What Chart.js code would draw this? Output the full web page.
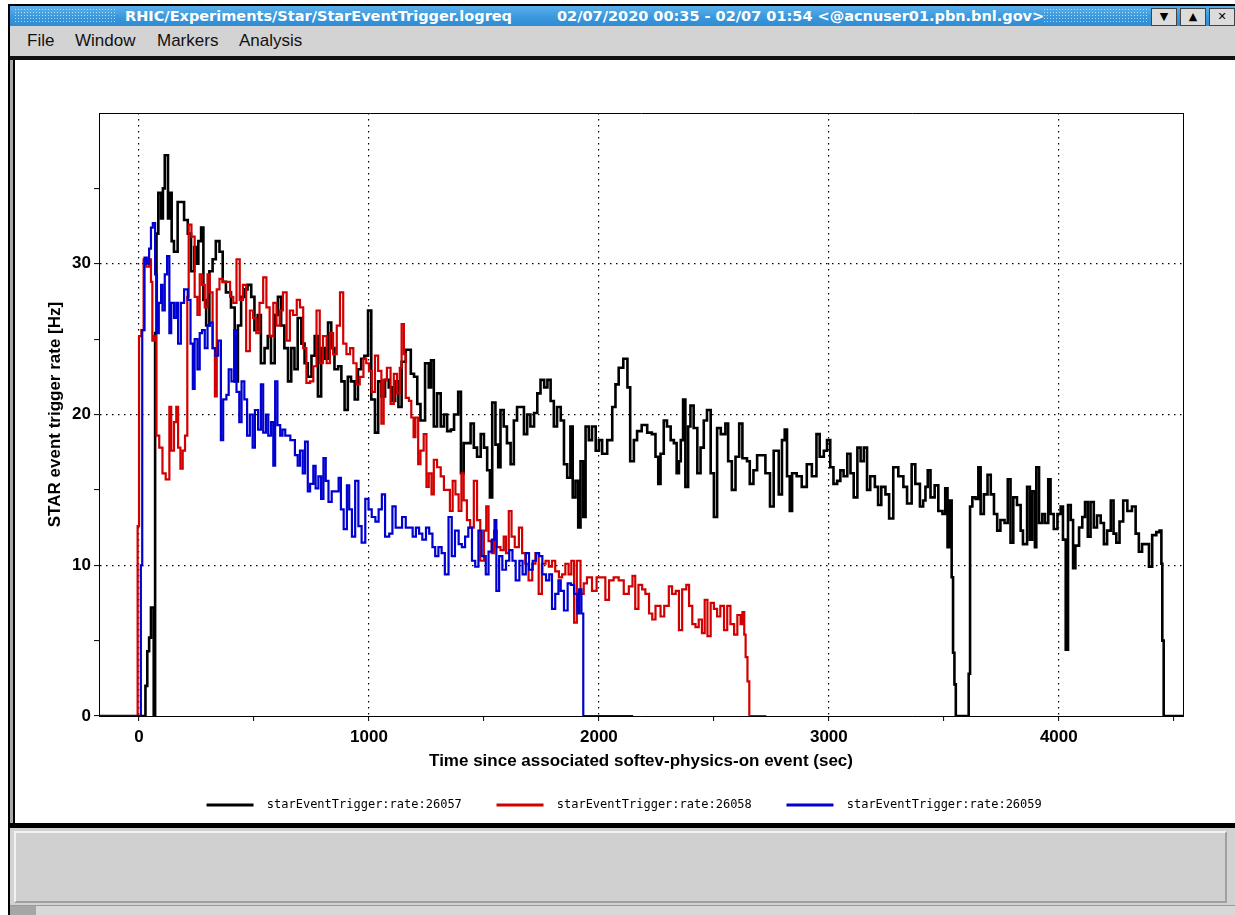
<!DOCTYPE html>
<html>
<head>
<meta charset="utf-8">
<title>StarEventTrigger.logreq</title>
<script src="https://cdn.jsdelivr.net/npm/chart.js@4.4.1/dist/chart.umd.min.js"></script>
<style>
  body { margin: 0; width: 1235px; height: 915px; background: #fff; position: relative; overflow: hidden; font-family: "Liberation Sans", Arial, sans-serif; }
  .abs { position: absolute; }
  #outerTop { left: 8px; top: 4px; width: 1227px; height: 2px; background: #000; }
  #outerLeft { left: 8px; top: 4px; width: 2px; height: 911px; background: #000; }
  #titlebar { left: 10px; top: 6px; width: 1225px; height: 20px; background: linear-gradient(to bottom, #5cb1ea 0%, #3a98dd 55%, #2f8bd2 100%); }
  .dots { top: 8px; height: 16px; background-image: radial-gradient(circle, rgba(220,240,255,0.75) 0.7px, transparent 0.9px); background-size: 3px 3px; }
  .ttl { top: 7px; color: #fff; font: bold 14.5px "DejaVu Sans", sans-serif; white-space: pre; line-height: 18px; }
  .btn { top: 8px; width: 24px; height: 16px; background: #dcdcdc; border: 1px solid #444; font: bold 11px "DejaVu Sans", sans-serif; text-align: center; line-height: 16px; color: #000; }
  #menubar { left: 10px; top: 26px; width: 1225px; height: 30px; background: #d3d3d3; }
  .menu { top: 31px; font: 17px "Liberation Sans", Arial, sans-serif; color: #111; line-height: 20px; }
  #menuLine { left: 10px; top: 56px; width: 1225px; height: 4px; background: #111; }
  #innerGray { left: 10px; top: 60px; width: 3px; height: 763px; background: #a8a8a8; }
  #innerBlack { left: 13px; top: 60px; width: 2px; height: 763px; background: #000; }
  #plotPanel { left: 15px; top: 60px; width: 1220px; height: 763px; background: #fff; }
  #bottomLine { left: 10px; top: 823px; width: 1225px; height: 5px; background: #000; }
  #statusPanel { left: 10px; top: 828px; width: 1225px; height: 77px; background: #d2d2d2; }
  #statusInner { left: 14px; top: 831px; width: 1209px; height: 68px; border: 2px solid; border-color: #f2f2f2 #a0a0a0 #a0a0a0 #f2f2f2; background: #d0d0d0; }
  #bottomStrip { left: 10px; top: 905px; width: 1225px; height: 10px; background: #d8d8d8; border-top: 1px solid #999; }
  #bottomBlock { left: 10px; top: 906px; width: 26px; height: 9px; background: #a6a6a6; }
  canvas { display: block; }
</style>
</head>
<body>
<div id="outerTop" class="abs"></div>
<div id="outerLeft" class="abs"></div>
<div id="titlebar" class="abs"></div>
<div class="abs dots" style="left:14px;width:102px;"></div>
<div class="abs dots" style="left:1043px;width:104px;"></div>
<div class="abs ttl" style="left:125px;">RHIC/Experiments/Star/StarEventTrigger.logreq</div>
<div class="abs ttl" style="left:557px;">02/07/2020 00:35 - 02/07 01:54 &lt;@acnuser01.pbn.bnl.gov&gt;</div>
<div class="abs btn" style="left:1151px;">&#9660;</div>
<div class="abs btn" style="left:1180px;">&#9650;</div>
<div class="abs btn" style="left:1209px;">&#10005;</div>
<div id="menubar" class="abs"></div>
<div class="abs menu" style="left:27px;">File</div>
<div class="abs menu" style="left:75px;">Window</div>
<div class="abs menu" style="left:157px;">Markers</div>
<div class="abs menu" style="left:239px;">Analysis</div>
<div id="menuLine" class="abs"></div>
<div id="innerGray" class="abs"></div>
<div id="innerBlack" class="abs"></div>
<div id="plotPanel" class="abs"><canvas id="rateChart" width="1220" height="763"></canvas></div>
<div id="bottomLine" class="abs"></div>
<div id="statusPanel" class="abs"></div>
<div id="statusInner" class="abs"></div>
<div id="bottomStrip" class="abs"></div>
<div id="bottomBlock" class="abs"></div>

<script>
// [time since softev-physics-on (s), rate (Hz)]
var rate26057 = [[-174,0],[28,2],[36,4.3],[44,5.2],[52,7.2],[64,0],[70,25.4],[76,32],[84,34.7],[96,33],[104,35],[112,37.2],[126,33],[134,34.7],[142,31.5],[152,30.8],[168,34.1],[196,32.9],[212,32],[226,29.5],[240,31.1],[252,30],[258,31.5],[270,32.4],[280,27.6],[292,25.9],[306,29.5],[320,30.3],[334,31.5],[350,30.8],[364,28.8],[378,28.1],[400,27.1],[416,22.2],[430,25.9],[444,27.8],[458,28.3],[472,28.6],[488,27.8],[502,25.6],[516,26.6],[530,23.4],[546,24.4],[560,25.2],[574,23.4],[590,26.6],[604,27.8],[618,25.9],[632,24.4],[648,22.2],[662,24.4],[676,23],[690,26.4],[706,24.7],[720,23.4],[734,22.5],[750,23.9],[764,25.2],[778,21.2],[792,24.4],[808,23.7],[822,26.1],[836,24.4],[850,23],[866,23.2],[880,22.2],[894,20.3],[908,22.5],[922,22.2],[938,21],[952,23],[966,23.7],[980,23.9],[996,26.9],[1010,21],[1026,18.8],[1040,22.2],[1054,21.2],[1070,22.3],[1086,21.8],[1100,20.9],[1114,22.2],[1128,20.5],[1142,23.5],[1160,24.3],[1182,22.7],[1196,22.5],[1210,20.7],[1224,19.6],[1244,23.4],[1260,21.8],[1270,23.6],[1282,19.2],[1296,21.4],[1312,19.2],[1326,20],[1340,18.9],[1356,19],[1370,20],[1388,21.5],[1400,16.1],[1412,18.1],[1442,19.4],[1456,17.8],[1470,17.2],[1486,18.7],[1500,17.8],[1514,16.3],[1526,14.5],[1536,20.8],[1550,18],[1562,16.5],[1572,20.3],[1586,19.2],[1600,18.1],[1616,16.7],[1630,19.6],[1644,20.5],[1674,18.7],[1688,20],[1702,19.2],[1718,20.1],[1732,21.4],[1746,22.3],[1762,21.8],[1776,22.3],[1790,20.9],[1804,19.2],[1818,20.5],[1834,19.6],[1848,16.7],[1862,15.8],[1876,19.2],[1886,14.5],[1898,15.6],[1910,12.5],[1920,16.9],[1932,13.2],[1942,19.2],[1956,18.3],[1970,19.2],[1986,17.6],[2000,18.3],[2014,17.4],[2036,18.3],[2058,20.5],[2072,22],[2086,23.1],[2106,23.7],[2124,21.8],[2136,16.9],[2152,18.3],[2166,18.9],[2186,19.3],[2210,18.8],[2230,18.7],[2246,17.2],[2258,15.4],[2268,17.4],[2282,19.6],[2296,19.2],[2312,18.3],[2326,18.1],[2338,16.1],[2348,16.9],[2356,18.3],[2366,21],[2376,15.2],[2388,19.2],[2398,20.6],[2412,19.1],[2428,16.1],[2442,17.8],[2456,19.6],[2470,20.3],[2486,16.1],[2500,13.2],[2514,19.1],[2530,18.7],[2550,19.4],[2562,16.9],[2578,15],[2594,17.2],[2610,19.4],[2624,17.1],[2644,16.9],[2656,15.4],[2672,16.3],[2688,17.3],[2710,17.3],[2724,16.1],[2744,13.9],[2760,17.6],[2782,14.7],[2796,18.3],[2808,19],[2818,15.9],[2830,13.6],[2840,16.1],[2860,15.9],[2882,15.2],[2904,16.7],[2926,15.9],[2946,18.7],[2960,17.2],[2978,17.6],[2992,18.3],[3006,16.5],[3020,15.4],[3036,15.6],[3050,16.3],[3064,15.9],[3080,17.4],[3094,16.1],[3108,14.5],[3124,17.8],[3138,16.9],[3152,17.8],[3166,15],[3180,15.9],[3200,15.2],[3214,14],[3228,15.2],[3246,14.7],[3262,13.1],[3280,16.5],[3302,15.9],[3324,15.2],[3340,14.1],[3360,16.7],[3376,15.4],[3396,13.9],[3410,14.3],[3420,15.2],[3430,16.3],[3442,14.5],[3460,15.3],[3476,13.6],[3494,13.4],[3506,15.1],[3516,11.2],[3526,14.3],[3534,9.2],[3540,4.2],[3546,2.1],[3552,0],[3608,2.8],[3614,13.9],[3624,14.5],[3638,14.4],[3650,16.5],[3660,13.4],[3674,14.7],[3690,16],[3704,14.7],[3718,13.4],[3732,12.3],[3746,13],[3764,12.8],[3778,15.7],[3790,11.5],[3802,14.5],[3818,14],[3834,12.3],[3844,11.4],[3862,15.2],[3874,11.7],[3884,14.9],[3896,11.2],[3902,16.5],[3914,12.8],[3928,13.4],[3940,12.8],[3954,15.7],[3964,13.4],[3978,12.4],[3994,13.4],[4008,13.9],[4018,11.7],[4030,4.4],[4040,14],[4052,13],[4062,9.8],[4072,11.3],[4088,12.5],[4102,13.2],[4114,14.2],[4126,11.9],[4138,14.2],[4152,12.5],[4166,13.3],[4182,12.8],[4196,11.4],[4210,12.3],[4226,14.3],[4238,12.1],[4250,11.5],[4264,12.9],[4280,14.3],[4298,13.6],[4318,13.9],[4334,12.1],[4348,10.9],[4362,11.4],[4380,11.4],[4392,9.9],[4406,12],[4424,12.2],[4438,12.3],[4446,10.1],[4450,5],[4456,0],[4540,0]];

var rate26058 = [[-174,0],[-6,12.6],[0,25.2],[10,25.6],[20,30.3],[32,29.8],[44,30.3],[52,28.8],[58,24.9],[66,25.2],[76,18.6],[88,17.8],[102,16.1],[116,15.7],[132,20.5],[140,17.6],[152,19.5],[162,20.5],[170,17.8],[180,16.4],[190,17.6],[200,18.6],[210,27.8],[216,32.6],[228,31.8],[242,27.8],[254,26.6],[264,29.3],[274,28.6],[286,27.1],[298,29.3],[308,28.1],[320,24.4],[330,21.2],[338,28.3],[350,29],[364,28.8],[380,28.8],[396,27.8],[410,27.4],[424,30.3],[438,27.6],[452,28.6],[466,24.2],[482,26.9],[496,26.4],[510,25.4],[524,27.4],[540,29.1],[554,27.1],[568,25.2],[584,27.4],[598,25.9],[612,26.9],[626,28.1],[642,24.9],[656,26.9],[670,26.6],[686,27.6],[700,27.1],[714,24.4],[728,22.1],[744,22.2],[758,23.2],[772,26.9],[786,23.4],[800,25.2],[816,23.4],[830,25.4],[844,24],[860,25.9],[874,28.1],[888,24.7],[902,24],[918,24.4],[932,23.4],[946,22],[960,22.5],[976,23.7],[988,23.4],[1000,22.9],[1012,21.5],[1026,23.9],[1040,22.9],[1054,19.4],[1064,22.3],[1078,23.1],[1094,20.7],[1108,22.7],[1122,21.4],[1134,23.1],[1142,26],[1152,24],[1160,21.1],[1174,20.9],[1184,19.8],[1194,18.5],[1202,19.8],[1214,16.7],[1224,17.6],[1238,18.7],[1250,15.2],[1260,16.1],[1272,14.7],[1282,17],[1296,16.5],[1312,15.9],[1326,15],[1340,15],[1352,13.6],[1364,15.6],[1376,14.7],[1390,13.6],[1402,16.1],[1412,14.3],[1426,13],[1440,12.5],[1456,15.6],[1470,13],[1484,10.3],[1500,12.3],[1510,13.9],[1520,11.6],[1534,10.8],[1544,12.3],[1556,11.2],[1572,11],[1586,11.9],[1596,10.8],[1608,13.6],[1620,11.9],[1634,11.2],[1652,12.5],[1666,10.8],[1680,10.1],[1694,9],[1710,10.1],[1724,10.8],[1738,8.1],[1752,10.1],[1768,10.3],[1782,9.9],[1796,10.3],[1810,9.6],[1826,9.2],[1840,9.4],[1854,10.1],[1868,9.4],[1880,10.3],[1892,6.2],[1904,10.3],[1920,8.1],[1934,8.8],[1948,9.2],[1970,8.3],[1990,9.2],[2008,9.2],[2028,7.7],[2044,9],[2064,9.2],[2086,9],[2108,8.1],[2130,8.6],[2146,9.3],[2158,7.1],[2172,8.7],[2188,8.4],[2202,8.1],[2218,6.8],[2232,6.4],[2246,7.3],[2268,6.6],[2284,7.3],[2304,8.6],[2318,8.1],[2334,8.3],[2348,5.7],[2362,8.4],[2380,8.7],[2392,7.3],[2406,6.1],[2420,5.9],[2434,6.4],[2448,5.5],[2460,7.7],[2472,5.3],[2486,7.5],[2500,7.1],[2514,6.6],[2528,7.3],[2544,5.7],[2558,7.3],[2572,6.1],[2588,5.4],[2602,6.7],[2616,6.1],[2624,6.9],[2632,5.4],[2638,3.9],[2646,2.3],[2654,0],[2728,0]];

var rate26059 = [[-174,0],[8,10],[14,25.6],[24,30.4],[34,30],[44,31],[52,32.4],[60,32.7],[70,29.3],[78,25.4],[86,27.4],[96,28.6],[102,26.9],[112,29.3],[122,30.5],[132,25.4],[140,27.4],[152,26.4],[162,27.4],[170,24.7],[182,27.4],[196,28.3],[212,27.6],[224,24.7],[234,21.7],[242,25],[254,23],[264,25.4],[274,25.6],[286,24.4],[298,25.9],[308,26.1],[320,24.4],[332,23.9],[344,24.9],[356,18.3],[366,21],[380,21.3],[390,23],[402,22.2],[414,25.6],[424,21.5],[436,19.5],[446,22.2],[458,21],[470,18.6],[482,20],[494,17.8],[504,20.3],[518,19],[530,22],[540,18.8],[552,20],[562,18.6],[574,19.5],[584,16.6],[592,22.2],[602,19.3],[614,18.6],[624,19],[636,18.6],[658,18.3],[678,17.3],[690,16.6],[700,17.6],[712,16.1],[722,18.2],[734,14.9],[744,15.4],[758,16.6],[768,15.1],[780,15.9],[792,14.4],[802,17.1],[812,15.6],[824,14.2],[838,14.9],[852,14.9],[868,15.8],[878,13.7],[890,12.4],[904,15.3],[914,13.7],[926,11.9],[940,15.6],[954,12.6],[968,11.5],[984,14.4],[998,13.7],[1012,13.2],[1028,12.9],[1042,13.7],[1056,14.7],[1070,11.9],[1088,12.1],[1102,13.9],[1116,12.5],[1130,12.5],[1144,13.2],[1160,12.5],[1176,12.5],[1190,11.9],[1204,12.5],[1218,12.1],[1232,11.7],[1248,12.5],[1262,12.1],[1276,11.2],[1288,10.6],[1302,11.2],[1316,10.8],[1330,9.4],[1346,13.2],[1360,10.6],[1374,12.3],[1390,11.4],[1404,11.2],[1418,11.9],[1432,12.5],[1448,10.3],[1462,9.9],[1476,12.3],[1490,10.6],[1508,9.4],[1520,10.9],[1534,11.7],[1546,13],[1554,8.3],[1566,10.6],[1580,9.7],[1596,10.3],[1610,11],[1624,10.3],[1638,9],[1654,10.3],[1668,9.4],[1682,10.8],[1696,9.7],[1712,10.3],[1726,10.8],[1740,10.6],[1754,9.4],[1770,9],[1784,9.4],[1796,7.1],[1810,8.1],[1824,9],[1834,8.3],[1848,7],[1864,8.8],[1878,8.7],[1892,8.1],[1906,6.8],[1914,8.4],[1924,6.8],[1932,0],[2149,0]];

var seriesNames = ["starEventTrigger:rate:26057", "starEventTrigger:rate:26058", "starEventTrigger:rate:26059"];
var xTickValues = [0, 500, 1000, 1500, 2000, 2500, 3000, 3500, 4000, 4500];
var yTickValues = [0, 5, 10, 15, 20, 25, 30, 35];

function toPoints(pairs) {
    return pairs.map(function(p) { return {x: p[0], y: p[1]}; });
}

var boldFont = {family: '"Liberation Sans", Arial, sans-serif', size: 17, weight: 'bold'};
var titleFont = {family: '"Liberation Sans", Arial, sans-serif', size: 17, weight: 'bold'};
var dotted = [1.5, 4.5];

var ctx = document.getElementById('rateChart');
var chart = new Chart(ctx, {
    type: 'line',
    data: {
        datasets: [
            { label: seriesNames[0], data: toPoints(rate26057), borderColor: '#000000', backgroundColor: '#000000', borderWidth: 2.6, stepped: true, pointRadius: 0, order: 3 },
            { label: seriesNames[1], data: toPoints(rate26058), borderColor: '#d20000', backgroundColor: '#d20000', borderWidth: 2.2, stepped: true, pointRadius: 0, order: 2 },
            { label: seriesNames[2], data: toPoints(rate26059), borderColor: '#0000d0', backgroundColor: '#0000d0', borderWidth: 2.2, stepped: true, pointRadius: 0, order: 1 }
        ]
    },
    options: {
        responsive: false,
        animation: false,
        events: [],
        layout: { padding: { left: 20, top: 0, right: 0, bottom: 2 } },
        scales: {
            x: {
                type: 'linear', position: 'bottom', min: -174, max: 4540,
                afterBuildTicks: function(s) { s.ticks = xTickValues.map(function(v) { return {value: v}; }); },
                afterFit: function(s) { s.height = 70; },
                ticks: { autoSkip: false, maxRotation: 0, padding: 6, color: '#000', font: boldFont,
                    callback: function(v) { return v % 1000 === 0 ? String(v) : ''; } },
                grid: {
                    color: function(c) { return c.tick && c.tick.value % 1000 === 0 ? '#000' : 'rgba(0,0,0,0)'; },
                    lineWidth: 1.2, tickLength: 5, tickColor: '#000', tickWidth: 1
                },
                border: { display: true, color: '#000', width: 1, dash: dotted },
                title: { display: true, text: 'Time since associated softev-physics-on event (sec)', color: '#000', font: titleFont, padding: { top: 14, bottom: 14 } }
            },
            xTop: {
                type: 'linear', position: 'top', display: true,
                afterFit: function(s) { s.height = 53; },
                ticks: { display: false }, grid: { display: false },
                border: { display: true, color: '#000', width: 1 }
            },
            y: {
                type: 'linear', position: 'left', min: 0, max: 40,
                afterBuildTicks: function(s) { s.ticks = yTickValues.map(function(v) { return {value: v}; }); },
                afterFit: function(s) { s.width = 64; },
                ticks: { padding: 3, color: '#000', font: boldFont,
                    callback: function(v) { return v % 10 === 0 ? String(v) : ''; } },
                grid: {
                    color: function(c) { return c.tick && c.tick.value % 10 === 0 && c.tick.value > 0 ? '#000' : 'rgba(0,0,0,0)'; },
                    lineWidth: 1.2, tickLength: 5, tickColor: '#000', tickWidth: 1
                },
                border: { display: true, color: '#000', width: 1, dash: dotted },
                title: { display: true, text: 'STAR event trigger rate [Hz]', color: '#000', font: titleFont, padding: { top: 10, bottom: 10 } }
            },
            yRight: {
                type: 'linear', position: 'right', display: true,
                afterFit: function(s) { s.width = 52; },
                ticks: { display: false }, grid: { display: false },
                border: { display: true, color: '#000', width: 1 }
            }
        },
        plugins: {
            tooltip: { enabled: false },
            legend: {
                position: 'bottom',
                labels: {
                    boxWidth: 47, boxHeight: 3, padding: 13, color: '#000',
                    font: { family: '"DejaVu Sans Mono", monospace', size: 12 },
                    sort: function(a, b) { return a.datasetIndex - b.datasetIndex; },
                    generateLabels: function(c) {
                        return Chart.defaults.plugins.legend.labels.generateLabels(c).map(function(l) {
                            l.lineWidth = 0;
                            l.text = ' ' + l.text + '   ';
                            return l;
                        });
                    }
                }
            }
        }
    }
});
</script>
</body>
</html>
